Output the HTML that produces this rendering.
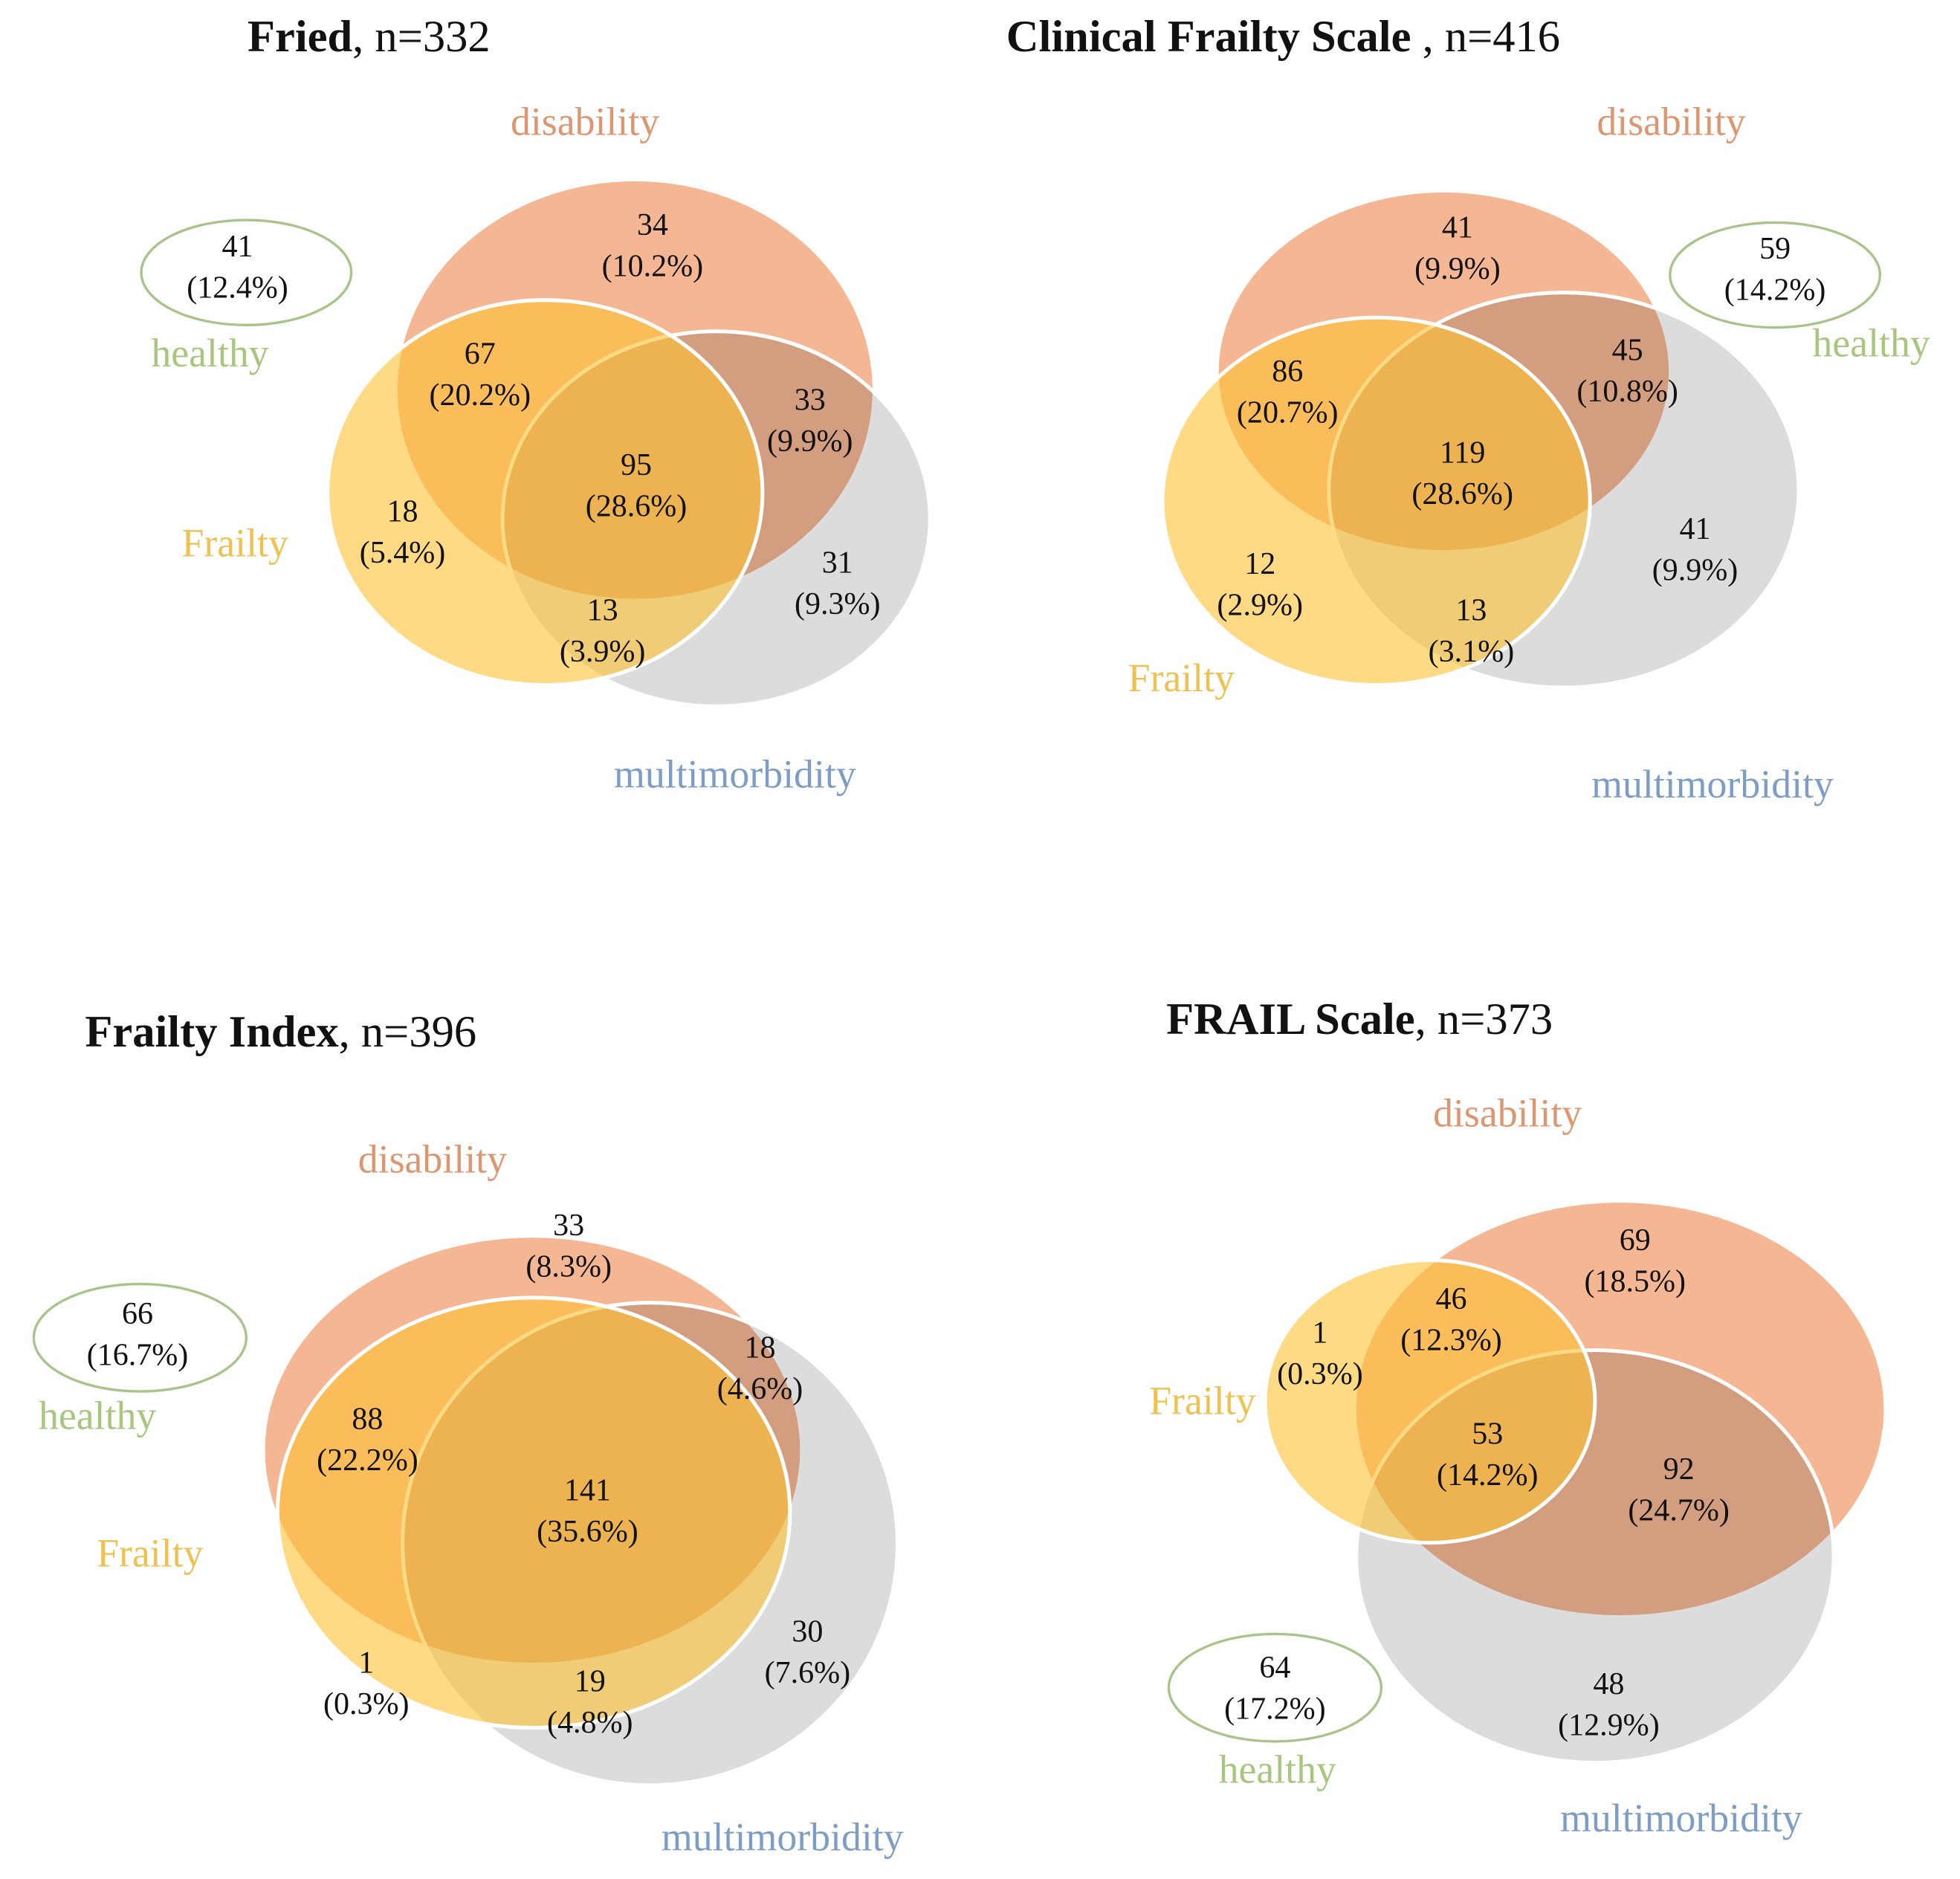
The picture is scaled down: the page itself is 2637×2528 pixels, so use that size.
<!DOCTYPE html>
<html>
<head>
<meta charset="utf-8">
<style>
html,body{margin:0;padding:0;background:#fff;}
svg{display:block;}
text{font-family:"Liberation Serif",serif;}
.num{font-size:25px;fill:#111;text-anchor:middle;}
.lab{font-size:32px;text-anchor:middle;}
.title{font-size:36px;fill:#111;}
</style>
</head>
<body>
<svg id="fig" width="2637" height="2528" viewBox="0 0 1568 1503" preserveAspectRatio="none" xmlns="http://www.w3.org/2000/svg">
<g id="root"></g>
</svg>
<script>
// panel data
const panelTitlesBold = ["Fried", "Clinical Frailty Scale", "Frailty Index", "FRAIL Scale"];
const panelTitlesRest = [", n=332", " , n=416", ", n=396", ", n=373"];
const friedCounts = ["34","67","33","95","18","31","13","41"];
const friedPcts = ["(10.2%)","(20.2%)","(9.9%)","(28.6%)","(5.4%)","(9.3%)","(3.9%)","(12.4%)"];
const cfsCounts = ["41","86","45","119","12","41","13","59"];
const cfsPcts = ["(9.9%)","(20.7%)","(10.8%)","(28.6%)","(2.9%)","(9.9%)","(3.1%)","(14.2%)"];
const fiCounts = ["33","88","18","141","1","30","19","66"];
const fiPcts = ["(8.3%)","(22.2%)","(4.6%)","(35.6%)","(0.3%)","(7.6%)","(4.8%)","(16.7%)"];
const frailCounts = ["69","46","1","53","92","48","64"];
const frailPcts = ["(18.5%)","(12.3%)","(0.3%)","(14.2%)","(24.7%)","(12.9%)","(17.2%)"];

// layout (not data)
const layouts = [
 {title:[198,41], dis:[508,312,190,167], fr:[436,394,174,154], mm:[573,415,171,150], hE:[197,218,84,42],
  disL:[468,108], hL:[168,293], frL:[188,445], mmL:[588,630],
  pos:[[522,180],[384,283],[648,320],[509,372],[322,409],[670,450],[482,488],[190,197]], counts:friedCounts, pcts:friedPcts},
 {title:[805,41], dis:[1155,297,180,143], fr:[1101,401,171,147], mm:[1251,392,188,158], hE:[1420,220,84,42],
  disL:[1337,108], hL:[1497,285], frL:[945,553], mmL:[1370,638],
  pos:[[1166,182],[1030,297],[1302,280],[1170,362],[1008,451],[1356,423],[1177,488],[1420,199]], counts:cfsCounts, pcts:cfsPcts},
 {title:[68,837], dis:[426,1160,214,170], fr:[427,1210,205,172], mm:[520,1235,198,193], hE:[112,1070,85,43],
  disL:[346,938], hL:[78,1143], frL:[120,1253], mmL:[626,1480],
  pos:[[455,980],[294,1135],[608,1078],[470,1192],[293,1330],[646,1305],[472,1345],[110,1051]], counts:fiCounts, pcts:fiPcts},
 {title:[933,827], dis:[1296,1127,211,165], fr:[1144,1121,132,113], mm:[1276,1245,191,165], hE:[1020,1350,85,43],
  disL:[1206,901], hL:[1022,1426], frL:[962,1131], mmL:[1345,1465],
  pos:[[1308,992],[1161,1039],[1056,1066],[1190,1147],[1343,1175],[1287,1347],[1020,1334]], counts:frailCounts, pcts:frailPcts}
];
const NS="http://www.w3.org/2000/svg";
const root=document.getElementById('root');
function mk(tag, attrs, parent){const e=document.createElementNS(NS,tag);for(const k in attrs)e.setAttribute(k,attrs[k]);parent.appendChild(e);return e;}
function ell(p,a,fill,extra,parent){return mk('ellipse',Object.assign({cx:a[0],cy:a[1],rx:a[2],ry:a[3],fill:fill},extra),parent);}
layouts.forEach((L,i)=>{
  const g=mk('g',{},root);
  
  
  const t=mk('text',{x:L.title[0],y:L.title[1],class:'title'},g);
  
  
  const b=mk('tspan',{'font-weight':'bold'},t); b.textContent=panelTitlesBold[i];
  const r=mk('tspan',{},t); r.textContent=panelTitlesRest[i];
  const mm=ell(g,L.mm,'#DCDCDC',{},g);
  
  
  const dis=ell(g,L.dis,'#F5B793',{style:'mix-blend-mode:multiply'},g);
  
  
  const mmo=ell(g,L.mm,'none',{stroke:'#fff','stroke-width':3},g);
  
  
  const fr=ell(g,L.fr,'#FFC232',{'fill-opacity':0.6,stroke:'#fff','stroke-width':3},g);
  
  
  const he=ell(g,L.hE,'none',{stroke:'#A9C48A','stroke-width':2},g);
  
  
  const labs=[[L.disL,'disability','#DC9670','disability-label'],[L.hL,'healthy','#A9C67F','healthy-label'],[L.frL,'Frailty','#EFC150','frailty-label'],[L.mmL,'multimorbidity','#7D9DC6','multimorbidity-label']];
  labs.forEach(l=>{
    const e=mk('text',{x:l[0][0],y:l[0][1],class:'lab',fill:l[2]},g);
    e.textContent=l[1];
    
    
  });
  L.pos.forEach((p,j)=>{
    const c=mk('text',{x:p[0],y:p[1]+8,class:'num'},g);
    c.textContent=L.counts[j];
    
    
    const q=mk('text',{x:p[0],y:p[1]+41,class:'num'},g);
    q.textContent=L.pcts[j];
    
    
  });
});
</script>
</body>
</html>
